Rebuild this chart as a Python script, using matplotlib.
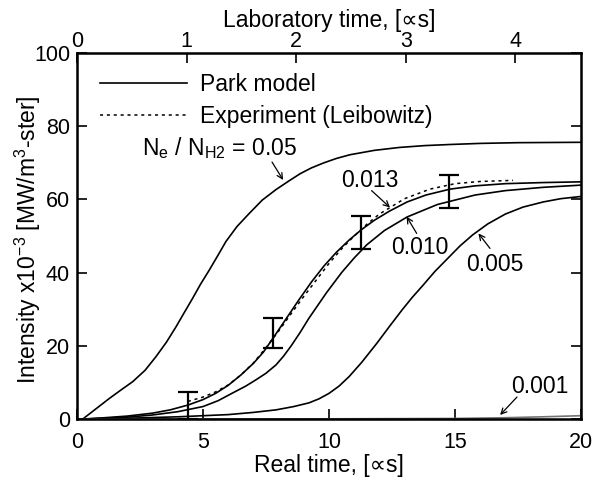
import numpy as np
import matplotlib
matplotlib.use('Agg')
import matplotlib.pyplot as plt

plt.rcParams['font.family'] = ['Liberation Sans', 'DejaVu Sans']
plt.rcParams['mathtext.fontset'] = 'custom'
plt.rcParams['mathtext.rm'] = 'Liberation Sans'
plt.rcParams['mathtext.it'] = 'Liberation Sans'

# Park model curves, labelled by Ne/NH2
x_005 = [0.23, 0.7, 1.28, 1.8, 2.21, 2.7, 3.13, 3.55, 3.93, 4.25, 4.59, 4.9, 5.25, 5.6, 5.91, 6.35, 6.84,
         7.35, 7.9, 8.4, 8.85, 9.3, 9.8, 10.3, 10.83, 11.8, 12.8, 13.8, 14.8, 16.0, 17.5, 20.0]
y_005 = [0.0, 2.5, 5.6, 8.2, 10.2, 13.3, 17.0, 21.0, 25.2, 29.0, 33.0, 36.8, 40.7, 44.8, 48.5, 52.6, 56.2,
         59.8, 62.7, 65.0, 67.0, 68.6, 70.0, 71.2, 72.2, 73.4, 74.2, 74.7, 75.0, 75.3, 75.5, 75.6]

x_0013 = [0.3, 1, 2, 3, 3.7, 4.4, 5.0, 5.5, 6.0, 6.5, 7.0, 7.4, 7.8, 8.3, 8.8, 9.3, 9.8, 10.3, 10.8, 11.3,
          11.8, 12.4, 13.1, 13.85, 14.8, 15.8, 17.0, 18.5, 20.0]
y_0013 = [0.0, 0.3, 0.8, 1.6, 2.5, 3.8, 5.3, 7.0, 9.2, 12.0, 15.2, 18.3, 22.3, 27.4, 32.5, 37.4, 41.8, 45.6, 48.9, 51.8,
          54.3, 56.8, 59.3, 61.2, 62.8, 63.7, 64.3, 64.6, 64.8]

x_0010 = [0.3, 2, 3, 4, 5, 5.6, 6.2, 6.7, 7.1, 7.5, 7.9, 8.2, 8.5, 8.85, 9.2, 9.9, 10.5, 11.0, 11.5, 12.2,
          13.1, 14.3, 15.8, 17.0, 18.5, 20.0]
y_0010 = [0.0, 0.5, 1.1, 2.0, 3.4, 5.0, 7.2, 9.0, 10.7, 12.5, 14.8, 17.2, 20.0, 23.6, 27.5, 34.5, 40.0, 44.0, 47.6, 51.5,
          55.2, 58.6, 61.2, 62.4, 63.3, 63.9]

x_0005 = [0.3, 2, 4, 6, 7, 7.9, 8.6, 9.2, 9.6, 10.0, 10.4, 10.8, 11.3, 11.9, 12.4, 12.9, 13.3, 13.7, 14.2,
          14.8, 15.2, 15.7, 16.3, 17.0, 17.7, 18.5, 19.2, 20.0]
y_0005 = [0.0, 0.2, 0.6, 1.2, 1.8, 2.5, 3.4, 4.4, 5.5, 7.0, 9.0, 11.6, 15.5, 20.7, 25.3, 29.8, 33.2, 36.3, 40.3,
          44.5, 47.3, 50.3, 53.3, 56.0, 57.9, 59.3, 60.2, 60.8]

x_0001 = [0.3, 5, 10, 15, 17, 18.5, 20]
y_0001 = [0.0, 0.0, 0.05, 0.15, 0.35, 0.6, 0.9]

# Experiment (Leibowitz)
x_exp = [4.4, 5, 5.5, 6, 6.5, 7, 7.5, 8, 8.5, 9, 9.5, 10, 10.5, 11, 11.5, 12, 13, 14, 15, 16, 17.3]
y_exp = [4.8, 6.0, 7.4, 9.3, 12.0, 15.3, 19.5, 24.0, 28.8, 33.5, 38.0, 42.5, 46.5, 50.0, 53.2, 56.0, 60.2, 62.8, 64.3, 64.9, 65.2]

# error bars
err_x = [4.39, 7.76, 11.27, 14.77]
err_y = [3.65, 23.5, 51.0, 62.2]
err_h = [3.65, 4.2, 4.6, 4.5]

fs = 16.5     # labels / annotations
fst = 15.5    # tick labels

fig = plt.figure(figsize=(6.06, 4.84), dpi=100)
ax = fig.add_axes([77/606, 1 - 419/484, 504/606, 366/484])

lw = 1.2
ax.plot(x_005, y_005, 'k-', lw=lw, label='Park model')
ax.plot(x_exp, y_exp, color='k', lw=1.1, linestyle=(0, (2, 2.5)), label='Experiment (Leibowitz)')
ax.plot(x_0013, y_0013, 'k-', lw=lw)
ax.plot(x_0010, y_0010, 'k-', lw=lw)
ax.plot(x_0005, y_0005, 'k-', lw=lw)
ax.plot(x_0001, y_0001, color='0.45', lw=lw)
ax.errorbar(err_x, err_y, yerr=err_h, fmt='none', ecolor='k', elinewidth=1.6, capsize=7, capthick=1.6)

ax.set_xlim(0, 20)
ax.set_ylim(0, 100)
ax.set_xticks([0, 5, 10, 15, 20])
ax.set_yticks([0, 20, 40, 60, 80, 100])
ax.tick_params(direction='in', length=7, width=1.2, labelsize=fst, right=True, pad=5)
ax.tick_params(axis='x', pad=9)
for s in ax.spines.values():
    s.set_linewidth(1.8)
ax.set_xlabel('Real time, [\u221ds]', fontsize=fs, labelpad=1)
ax.set_ylabel('Intensity x10$^{-3}$ [MW/m$^{3}$-ster]', fontsize=fs)
ax.yaxis.set_label_coords(-0.068, 0.49)

ax2 = ax.twiny()
ax2.set_xlim(0, 4.6)
ax2.set_xticks([0, 1, 2, 3, 4])
ax2.tick_params(direction='in', length=7, width=1.2, labelsize=fst, pad=0.5)
ax2.set_xlabel('Laboratory time, [\u221ds]', fontsize=fs, labelpad=3)

leg = ax.legend(loc='upper left', bbox_to_anchor=(0.046, 0.945), frameon=False, fontsize=fs,
                handlelength=3.8, handletextpad=0.55, labelspacing=0.4, borderpad=0, borderaxespad=0)

ax.text(2.58, 74.0, 'N$_e$ / N$_{H2}$ = 0.05', fontsize=fs, va='center', ha='left')
arrow = dict(arrowstyle='->', lw=0.9, color='k', shrinkA=0, shrinkB=0)
ax.annotate('', xy=(8.18, 65.3), xytext=(7.74, 70.2), arrowprops=arrow)
ax.annotate('', xy=(12.42, 57.8), xytext=(11.69, 62.4), arrowprops=arrow)
ax.text(11.63, 65.2, '0.013', fontsize=fs, ha='center', va='center')
ax.annotate('', xy=(13.08, 55.3), xytext=(13.48, 50.7), arrowprops=arrow)
ax.text(13.6, 46.9, '0.010', fontsize=fs, ha='center', va='center')
ax.annotate('', xy=(15.93, 50.7), xytext=(16.39, 46.6), arrowprops=arrow)
ax.text(16.59, 42.1, '0.005', fontsize=fs, ha='center', va='center')
ax.annotate('', xy=(16.79, 1.1), xytext=(17.46, 6.0), arrowprops=arrow)
ax.text(18.37, 9.0, '0.001', fontsize=fs, ha='center', va='center')

fig.savefig('out.png', dpi=100)
